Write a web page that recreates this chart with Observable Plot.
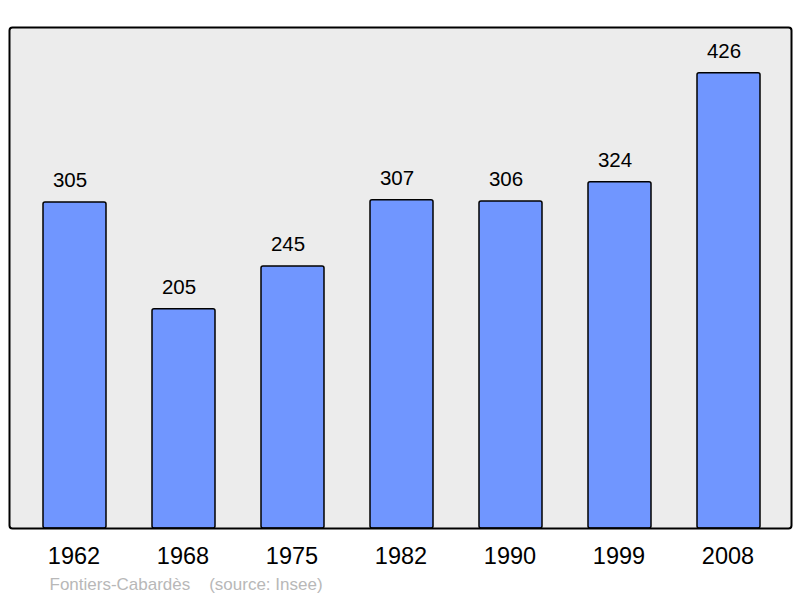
<!DOCTYPE html>
<html>
<head>
<meta charset="utf-8">
<script src="https://cdn.jsdelivr.net/npm/d3@7"></script>
<script src="https://cdn.jsdelivr.net/npm/@observablehq/plot@0.6"></script>
<style>
  html, body { margin: 0; padding: 0; background: #fff; }
</style>
</head>
<body>
<div id="chart"></div>
<script>
const years = ["1962", "1968", "1975", "1982", "1990", "1999", "2008"];
const population = [305, 205, 245, 307, 306, 324, 426];
const captionText = "Fontiers-Cabardès\u00a0\u00a0\u00a0\u00a0(source: Insee)";

const data = years.map((year, i) => ({year, value: population[i]}));

const chart = Plot.plot({
  width: 800,
  height: 598,
  marginLeft: 9,
  marginRight: 9,
  marginTop: 27,
  marginBottom: 70,
  x: {domain: years, range: [11, 792], paddingInner: 0.42, paddingOuter: 0.284, align: 0.5, axis: null},
  y: {domain: [0, 468.7], axis: null},
  style: {fontFamily: "'Liberation Sans', Arial, sans-serif", background: "white", overflow: "visible"},
  marks: [
    Plot.frame({fill: "#ececec", stroke: "none", rx: 3}),
    Plot.barY(data, {x: "year", y: "value", fill: "#7096ff", stroke: "#000", strokeWidth: 1.5, rx: 2}),
    Plot.frame({stroke: "#000", strokeWidth: 2, rx: 3}),
    Plot.text(data, {x: "year", y: "value", text: d => String(d.value), dy: -22, dx: -5, fontSize: 20.5, fill: "#000"}),
    Plot.text(data, {x: "year", text: "year", frameAnchor: "bottom", dy: 35, dx: -1, fontSize: 23.5, fill: "#000"}),
    Plot.text([captionText], {text: d => d, frameAnchor: "bottom-left", dx: 40, dy: 61, textAnchor: "start", fontSize: 17, fill: "#b8b8b8"})
  ]
});
document.getElementById("chart").appendChild(chart);
</script>
</body>
</html>
